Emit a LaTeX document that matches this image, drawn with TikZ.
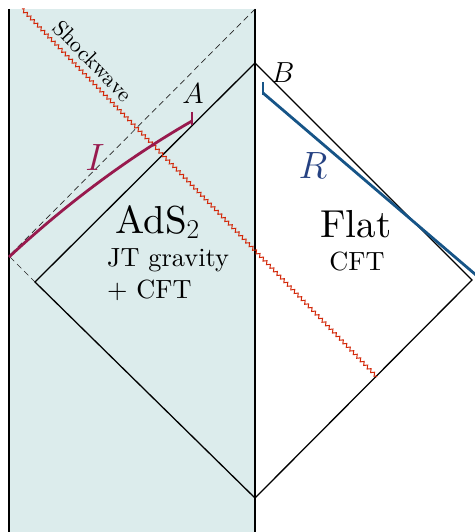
\RequirePackage{fix-cm}
\documentclass[tikz,border=0pt]{standalone}
\usepackage{fontspec}
\setmainfont{lmroman10}[Extension=.otf, UprightFont=*-regular, ItalicFont=*-italic, BoldFont=*-bold, BoldItalicFont=*-bolditalic]
\usetikzlibrary{decorations.pathmorphing}
\definecolor{stripbg}{RGB}{220,236,236}
\definecolor{crim}{RGB}{152,26,78}
\definecolor{bline}{RGB}{22,84,135}
\definecolor{rlab}{RGB}{38,66,130}
\definecolor{shock}{RGB}{210,40,10}
\tikzset{
  edge/.style={line width=1.3pt, black},
  wall/.style={line width=1.1pt, black},
  nulldash/.style={line width=0.7pt, black!85, dash pattern=on 6pt off 4pt},
  shockline/.style={shock, line width=1pt, decorate, decoration={zigzag, amplitude=1.6pt, segment length=5pt}},
  bigtxt/.style={font=\fontsize{39}{42}\selectfont, inner sep=0pt},
  midtxt/.style={font=\fontsize{26.3}{29}\selectfont, inner sep=0pt},
  smalltxt/.style={font=\fontsize{22}{24}\selectfont, inner sep=0pt},
  lab/.style={inner sep=0pt}
}
\begin{document}
\begin{tikzpicture}[x=1pt,y=-1pt]
\useasboundingbox (0,0) rectangle (474,532);
% strip
\fill[stripbg] (9,9) rectangle (255,532);
\coordinate (wlt) at (9,9);
\coordinate (wlb) at (9,532);
\coordinate (wrt) at (255,9);
\coordinate (wrb) at (255,532);
\draw[wall] (wlt) -- (wlb);
\draw[wall] (wrt) -- (wrb);
% corners
\coordinate (top) at (255,63);
\coordinate (bot) at (255,498);
\coordinate (left) at (35,282);
\coordinate (right) at (472,280);
\coordinate (refl) at (9,256);
% dashed null ray
\draw[nulldash] (wrt) -- (refl) -- (left);
% diamonds
\draw[edge] (top) -- (left) -- (bot) -- (right) -- cycle;
% shockwave
\coordinate (s0) at (22,9);
\coordinate (s1) at (377,377);
\draw[shockline] (s0) -- (s1);
\node[smalltxt, rotate=-46] (shk) at (93,61) {Shockwave};
% I curve
\coordinate (i0) at (9,257);
\coordinate (i1) at (192,121);
\coordinate (ic1) at (65,205);
\coordinate (ic2) at (126,159);
\draw[crim, line width=2.8pt] (i0) .. controls (ic1) and (ic2) .. (i1);
\coordinate (ib0) at (192,112);
\coordinate (ib1) at (192,125);
\draw[crim, line width=2.2pt] (ib0) -- (ib1);
% R line
\coordinate (r0) at (263,93);
\coordinate (r1) at (476,275);
\draw[bline, line width=2.8pt] (r0) -- (r1);
\coordinate (rb0) at (263,82);
\coordinate (rb1) at (263,95);
\draw[bline, line width=2.2pt] (rb0) -- (rb1);
% labels
\node[lab, font=\fontsize{38}{40}\selectfont, text=crim] (Ilab) at (95,158) {$I$};
\node[lab, font=\fontsize{38}{40}\selectfont, text=rlab] (Rlab) at (313,166) {$R$};
\node[lab, font=\fontsize{29}{30}\selectfont] (Alab) at (193,94) {$A$};
\node[lab, font=\fontsize{29}{30}\selectfont] (Blab) at (283,73) {$B$};
\node[bigtxt, anchor=base west] (ads) at (115,233) {AdS$_2$};
\node[midtxt, anchor=base west] (jt) at (107,266) {JT gravity};
\node[midtxt, anchor=base west] (cft1) at (107,298) {+ CFT};
\node[bigtxt, anchor=base] (flat) at (356,237) {Flat};
\node[midtxt, anchor=base] (cft2) at (357,270) {CFT};
\end{tikzpicture}
\end{document}
